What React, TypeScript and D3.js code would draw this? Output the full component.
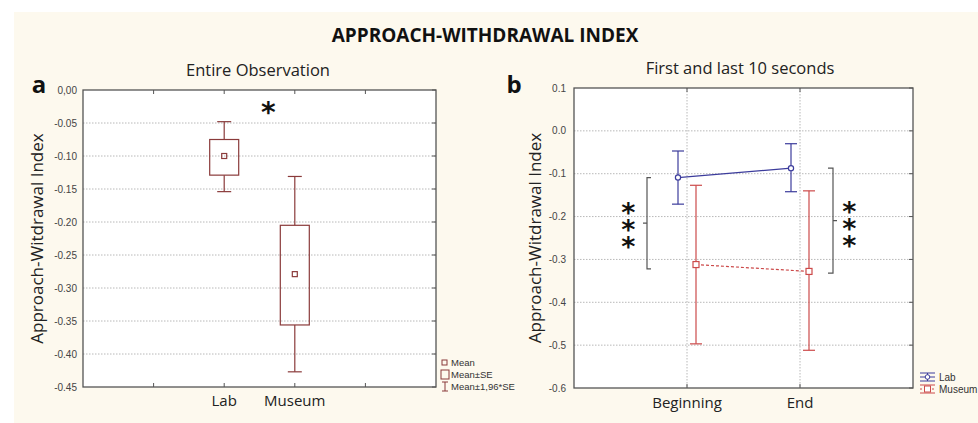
import React from "react";
import * as d3 from "d3";

// panel a: entire observation
const groups = ["Lab", "Museum"];
const groupMean = [-0.1, -0.279];
const groupSeLow = [-0.129, -0.356];
const groupSeHigh = [-0.075, -0.205];
const groupCiLow = [-0.154, -0.427];
const groupCiHigh = [-0.048, -0.131];
const ticksA = [0, -0.05, -0.1, -0.15, -0.2, -0.25, -0.3, -0.35, -0.4, -0.45];
const tickLabelsA = ["0,00", "-0.05", "-0.10", "-0.15", "-0.20", "-0.25", "-0.30", "-0.35", "-0.40", "-0.45"];

// panel b: first and last 10 seconds
const phases = ["Beginning", "End"];
const labMean = [-0.109, -0.087];
const labLow = [-0.171, -0.142];
const labHigh = [-0.047, -0.03];
const museumMean = [-0.312, -0.328];
const museumLow = [-0.497, -0.512];
const museumHigh = [-0.127, -0.14];
const ticksB = [0.1, 0, -0.1, -0.2, -0.3, -0.4, -0.5, -0.6];
const tickLabelsB = ["0.1", "0.0", "-0.1", "-0.2", "-0.3", "-0.4", "-0.5", "-0.6"];
// significance brackets (value ranges)
const bracketLeft = [-0.109, -0.322];
const bracketRight = [-0.087, -0.332];

const bg = "#fdf9ee";
const axisCol = "#555";
const gridCol = "#b8b8b8";
const brown = "#8a3a3a";
const blue = "#3c3c9c";
const red = "#cc4a4a";
const tickFont = "'Liberation Sans', Arial, sans-serif";
const titleFont = "'Open Sans', sans-serif";
const starFont = "'DejaVu Sans', sans-serif";

// a column of asterisks as one text: the line runs downwards and
// each glyph is turned back upright
function Stars({ x, y, n, gap = 17, size = 27 }: { x: number; y: number; n: number; gap?: number; size?: number }) {
  const xs = d3.range(n).map((i) => i * gap).join(" ");
  return (
    <text
      transform={`translate(${x - size * 0.25},${y + size * 0.58}) rotate(90)`}
      x={xs}
      y={0}
      rotate={-90}
      fontSize={size}
      fontWeight="bold"
      fontFamily={starFont}
      fill="#111"
    >
      {"*".repeat(n)}
    </text>
  );
}

function PanelA() {
  const left = 83, right = 436, top = 90, bottom = 387;
  const y = d3.scaleLinear().domain([0, -0.45]).range([top, bottom]);
  const x = d3.scaleLinear().domain([-2, 3]).range([left, right]);
  const xTicks = [-1, 0, 1, 2];
  return (
    <g>
      <rect x={left} y={top} width={right - left} height={bottom - top} fill="#fff" />
      {ticksA.slice(1, -1).map((t) => (
        <line key={t} x1={left} x2={right} y1={y(t)} y2={y(t)} stroke={gridCol} strokeDasharray="1.5 1.5" />
      ))}
      {ticksA.map((t, i) => (
        <g key={"t" + t}>
          <line x1={right - 4} x2={right} y1={y(t)} y2={y(t)} stroke={axisCol} />
          <text x={left - 6} y={y(t) + 3.5} textAnchor="end" fontSize={10} fontFamily={tickFont} fill="#444">
            {tickLabelsA[i]}
          </text>
        </g>
      ))}
      {xTicks.map((t) => (
        <g key={"x" + t}>
          <line x1={x(t)} x2={x(t)} y1={top} y2={top + 4} stroke={axisCol} />
          <line x1={x(t)} x2={x(t)} y1={bottom} y2={bottom - 4} stroke={axisCol} />
        </g>
      ))}
      <rect x={left} y={top} width={right - left} height={bottom - top} fill="none" stroke={axisCol} strokeWidth={1.3} />
      {groups.map((g, i) => {
        const cx = x(i);
        return (
          <g key={g} stroke={brown} fill="none" strokeWidth={1.2}>
            <line x1={cx} x2={cx} y1={y(groupCiHigh[i])} y2={y(groupSeHigh[i])} />
            <line x1={cx} x2={cx} y1={y(groupSeLow[i])} y2={y(groupCiLow[i])} />
            <line x1={cx - 7} x2={cx + 7} y1={y(groupCiHigh[i])} y2={y(groupCiHigh[i])} />
            <line x1={cx - 7} x2={cx + 7} y1={y(groupCiLow[i])} y2={y(groupCiLow[i])} />
            <rect x={cx - 14.5} y={y(groupSeHigh[i])} width={29} height={y(groupSeLow[i]) - y(groupSeHigh[i])} />
            <rect x={cx - 2.5} y={y(groupMean[i]) - 2.5} width={5} height={5} />
            <text
              x={cx}
              y={406}
              stroke="none"
              fill="#222"
              textAnchor="middle"
              fontSize={15}
              fontFamily={titleFont}
            >
              {g}
            </text>
          </g>
        );
      })}
      <Stars x={268} y={106} n={1} size={28} />
      <text x={258} y={76} textAnchor="middle" fontSize={16.5} fontFamily={titleFont} fill="#222">
        Entire Observation
      </text>
      <text x={39} y={93} textAnchor="middle" fontSize={24} fontWeight="bold" fontFamily={titleFont} fill="#111">
        a
      </text>
      <text
        transform={`translate(43,${(top + bottom) / 2}) rotate(-90)`}
        textAnchor="middle"
        fontSize={17}
        fontFamily={titleFont}
        fill="#222"
      >
        Approach-Witdrawal Index
      </text>
      {/* legend */}
      <g fontSize={9.5} fontFamily={tickFont} fill="#333">
        <rect x={442} y={360} width={5} height={5} fill="none" stroke={brown} />
        <text x={451} y={366}>Mean</text>
        <rect x={441} y={370} width={8} height={9} fill="none" stroke={brown} />
        <text x={451} y={378}>Mean±SE</text>
        <g stroke={brown}>
          <line x1={442} x2={448} y1={382} y2={382} />
          <line x1={445} x2={445} y1={382} y2={391} />
          <line x1={442} x2={448} y1={391} y2={391} />
        </g>
        <text x={451} y={390}>Mean±1,96*SE</text>
      </g>
    </g>
  );
}

function PanelB() {
  const left = 574, right = 913, top = 88, bottom = 388;
  const y = d3.scaleLinear().domain([0.1, -0.6]).range([top, bottom]);
  const x = d3.scaleLinear().domain([-1, 2]).range([left, right]);
  const series = [
    { name: "Lab", mean: labMean, low: labLow, high: labHigh, color: blue, dx: -9, dash: undefined },
    { name: "Museum", mean: museumMean, low: museumLow, high: museumHigh, color: red, dx: 9, dash: "3 2" },
  ];
  return (
    <g>
      <rect x={left} y={top} width={right - left} height={bottom - top} fill="#fff" />
      {ticksB.slice(1, -1).map((t) => (
        <line key={t} x1={left} x2={right} y1={y(t)} y2={y(t)} stroke={gridCol} strokeDasharray="1.5 1.5" />
      ))}
      {phases.map((p, i) => (
        <g key={p}>
          <line x1={x(i)} x2={x(i)} y1={top} y2={bottom} stroke={gridCol} strokeDasharray="1.5 1.5" />
          <line x1={x(i)} x2={x(i)} y1={top} y2={top + 4} stroke={axisCol} />
          <line x1={x(i)} x2={x(i)} y1={bottom} y2={bottom - 4} stroke={axisCol} />
          <text x={x(i)} y={408} textAnchor="middle" fontSize={15} fontFamily={titleFont} fill="#222">
            {p}
          </text>
        </g>
      ))}
      {ticksB.map((t, i) => (
        <g key={"t" + t}>
          <line x1={right - 4} x2={right} y1={y(t)} y2={y(t)} stroke={axisCol} />
          <text x={left - 8} y={y(t) + 3.5} textAnchor="end" fontSize={10} fontFamily={tickFont} fill="#444">
            {tickLabelsB[i]}
          </text>
        </g>
      ))}
      <rect x={left} y={top} width={right - left} height={bottom - top} fill="none" stroke={axisCol} strokeWidth={1.3} />
      {series.map((s) => {
        const line = d3
          .line<number>()
          .x((d, i) => x(i) + s.dx)
          .y((d) => y(d));
        return (
          <g key={s.name} stroke={s.color} fill="none" strokeWidth={1.2}>
            <path d={line(s.mean) || ""} strokeDasharray={s.dash} />
            {s.mean.map((m, i) => {
              const cx = x(i) + s.dx;
              return (
                <g key={i}>
                  <line x1={cx} x2={cx} y1={y(s.high[i])} y2={y(s.low[i])} />
                  <line x1={cx - 6} x2={cx + 6} y1={y(s.high[i])} y2={y(s.high[i])} />
                  <line x1={cx - 6} x2={cx + 6} y1={y(s.low[i])} y2={y(s.low[i])} />
                  {s.name === "Lab" ? (
                    <circle cx={cx} cy={y(m)} r={2.6} fill="#fff" />
                  ) : (
                    <rect x={cx - 3} y={y(m) - 3} width={6} height={6} fill="#fff" />
                  )}
                </g>
              );
            })}
          </g>
        );
      })}
      {/* significance brackets */}
      <g stroke="#555" fill="none" strokeWidth={1.2}>
        <path
          d={`M${651},${y(bracketLeft[0])}H${647}V${y(bracketLeft[1])}H${651}M${647},${
            (y(bracketLeft[0]) + y(bracketLeft[1])) / 2
          }H${643}`}
        />
        <path
          d={`M${828},${y(bracketRight[0])}H${833}V${y(bracketRight[1])}H${828}M${833},${
            (y(bracketRight[0]) + y(bracketRight[1])) / 2
          }H${837}`}
        />
      </g>
      <Stars x={628} y={206} n={3} />
      <Stars x={849} y={205} n={3} />
      <text x={740} y={74} textAnchor="middle" fontSize={16.5} fontFamily={titleFont} fill="#222">
        First and last 10 seconds
      </text>
      <text x={514} y={93} textAnchor="middle" fontSize={24} fontWeight="bold" fontFamily={titleFont} fill="#111">
        b
      </text>
      <text
        transform={`translate(541,${(top + bottom) / 2}) rotate(-90)`}
        textAnchor="middle"
        fontSize={17}
        fontFamily={titleFont}
        fill="#222"
      >
        Approach-Witdrawal Index
      </text>
      {/* legend */}
      <g fontSize={10} fontFamily={tickFont} fill="#333">
        <g stroke={blue} fill="none">
          <line x1={920} x2={935} y1={373} y2={373} />
          <line x1={920} x2={935} y1={377} y2={377} />
          <line x1={920} x2={935} y1={381} y2={381} />
          <line x1={927.5} x2={927.5} y1={373} y2={381} />
          <circle cx={927.5} cy={377} r={2.3} fill="#fff" />
        </g>
        <text x={939} y={381}>Lab</text>
        <g stroke={red} fill="none">
          <line x1={920} x2={935} y1={385} y2={385} />
          <line x1={920} x2={935} y1={389} y2={389} strokeDasharray="2 2" />
          <line x1={920} x2={935} y1={393} y2={393} />
          <rect x={924.5} y={386} width={6} height={6} fill="#fff" />
        </g>
        <text x={939} y={393}>Museum</text>
      </g>
    </g>
  );
}

export default function App() {
  return (
    <svg width={978} height={423} style={{ position: "absolute", left: 0, top: 0 }}>
      <rect width={978} height={423} fill="#fff" />
      <rect x={14} y={12} width={964} height={411} fill={bg} />
      <text x={485} y={42} textAnchor="middle" fontSize={19} fontWeight="bold" fontFamily={titleFont} fill="#111">
        APPROACH-WITHDRAWAL INDEX
      </text>
      <PanelA />
      <PanelB />
    </svg>
  );
}
